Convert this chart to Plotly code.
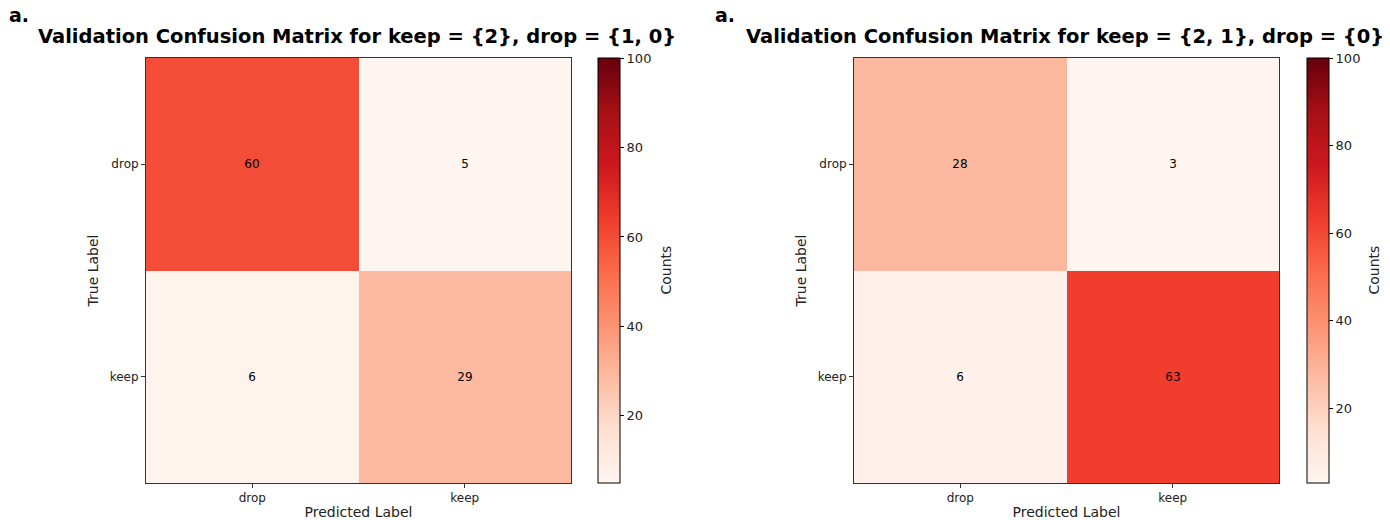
import plotly.graph_objects as go

# Confusion matrices (rows = true label, columns = predicted label)
labels = ["drop", "keep"]
counts_left = [[60, 5], [6, 29]]
counts_right = [[28, 3], [6, 63]]
titles = [
    "Validation Confusion Matrix for keep = {2}, drop = {1, 0}",
    "Validation Confusion Matrix for keep = {2, 1}, drop = {0}",
]
cbar_ticks = [20, 40, 60, 80, 100]
zmax = 100

W, H = 1390, 520
FONT = "DejaVu Sans"

# Pixel boxes of each panel: (left, right, top, bottom), colorbar left edge,
# colorbar label position and panel letter position
panels = [
    dict(x0=146, x1=571, y0=58, y1=483, cb=598, cblab=665, letter=7, data=counts_left),
    dict(x0=854, x1=1279, y0=58, y1=483, cb=1307, cblab=1373, letter=713, data=counts_right),
]

fig = go.Figure()
layout = dict(
    width=W, height=H,
    margin=dict(l=0, r=0, t=0, b=0),
    paper_bgcolor="white", plot_bgcolor="white",
    font=dict(family=FONT, color="black"),
    showlegend=False,
    annotations=[],
)

def px(x):
    return x / W

def py(y):
    return 1 - y / H

for i, p in enumerate(panels):
    n = "" if i == 0 else str(i + 1)
    ca = "coloraxis" + n
    z = p["data"]
    zmin = min(min(r) for r in z)
    text = [[str(v) for v in r] for r in z]
    fig.add_trace(go.Heatmap(
        z=z, x=labels, y=labels,
        text=text, texttemplate="%{text}",
        textfont=dict(family=FONT, size=12, color="black"),
        coloraxis=ca, xaxis="x" + n, yaxis="y" + n,
        xgap=0, ygap=0, hoverinfo="skip",
    ))
    layout[ca] = dict(
        colorscale="Reds", cmin=zmin, cmax=zmax,
        colorbar=dict(
            x=px(p["cb"]), xanchor="left", xpad=0, ypad=0,
            y=py(p["y1"]), yanchor="bottom",
            len=(p["y1"] - p["y0"]) / H, lenmode="fraction",
            thickness=22, thicknessmode="pixels",
            outlinewidth=1, outlinecolor="black",
            tickvals=cbar_ticks, ticks="outside", ticklen=4, tickcolor="black",
            tickfont=dict(family=FONT, size=13, color="#222"),
        ),
    )
    layout["xaxis" + n] = dict(
        domain=[px(p["x0"]), px(p["x1"])], anchor="y" + n,
        categoryorder="array", categoryarray=labels,
        showline=True, mirror=True, linecolor="#333", linewidth=1,
        ticks="outside", ticklen=4, tickcolor="#333",
        tickfont=dict(size=12, color="#222"), showgrid=False, zeroline=False,
        title=dict(text="Predicted Label", font=dict(size=14, color="#222"), standoff=2),
    )
    layout["yaxis" + n] = dict(
        domain=[py(p["y1"]), py(p["y0"])], anchor="x" + n,
        categoryorder="array", categoryarray=labels, autorange="reversed",
        showline=True, mirror=True, linecolor="#333", linewidth=1,
        ticks="outside", ticklen=4, tickcolor="#333",
        tickfont=dict(size=12, color="#222"), showgrid=False, zeroline=False,
        title=dict(text="True Label", font=dict(size=14, color="#222"), standoff=7),
    )
    # Colorbar label
    layout["annotations"].append(dict(
        text="Counts", xref="paper", yref="paper", textangle=-90,
        x=px(p["cblab"]), y=py((p["y0"] + p["y1"]) / 2),
        xanchor="center", yanchor="middle", showarrow=False,
        font=dict(family=FONT, size=14, color="#222"),
    ))
    # Panel title and panel letter
    layout["annotations"].append(dict(
        text="<b>" + titles[i] + "</b>", xref="paper", yref="paper",
        x=px((p["x0"] + p["x1"]) / 2 - 2), y=py(50), xanchor="center", yanchor="bottom",
        showarrow=False, font=dict(family=FONT, size=19.5, color="black"),
    ))
    layout["annotations"].append(dict(
        text="<b>a.</b>", xref="paper", yref="paper",
        x=px(p["letter"]), y=py(2), xanchor="left", yanchor="top",
        showarrow=False, font=dict(family=FONT, size=19, color="black"),
    ))

fig.update_layout(**layout)
fig.write_html("out.html")
